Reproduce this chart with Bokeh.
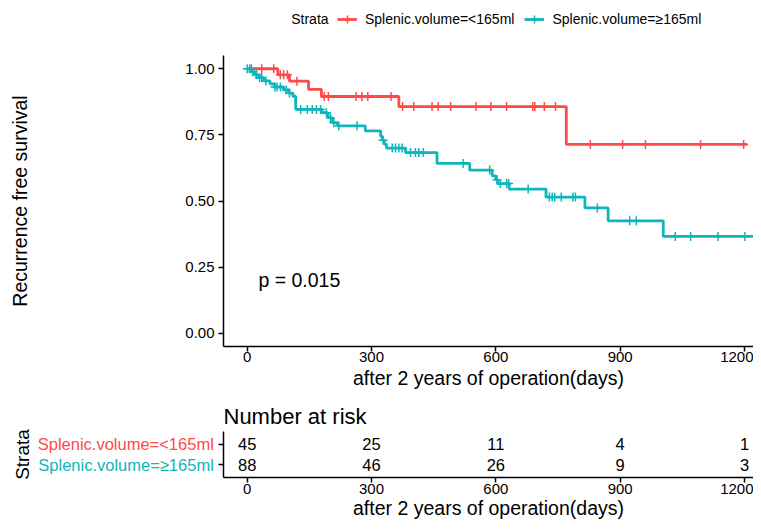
import numpy as np
from bokeh.plotting import figure
from bokeh.models import (Range1d, FixedTicker, NumeralTickFormatter, Label,
                          Legend, LegendItem, ColumnDataSource)
from bokeh.layouts import column, row
from bokeh.embed import file_html
from bokeh.resources import INLINE
from bokeh.core.properties import value

FONT = "Liberation Sans"
RED = "#FF4A4A"
TEAL = "#0FB5BA"

strata = ["Splenic.volume=<165ml", "Splenic.volume=\u2265165ml"]

# Kaplan-Meier steps (time in days, survival probability)
red_time = [0, 74, 102, 148, 179, 366, 770, 1206]
red_surv = [1.000, 0.977, 0.953, 0.922, 0.895, 0.857, 0.714, 0.714]
red_cens = [10, 35, 64, 80, 88, 97, 120, 186, 196, 263, 277, 291, 347, 375,
            402, 446, 461, 491, 552, 588, 626, 689, 694, 717, 744, 828, 906,
            961, 1094, 1198]

teal_time = [0, 8, 18, 28, 40, 55, 66, 88, 100, 110, 117, 180, 195, 205, 218,
             285, 322, 326, 331, 336, 382, 458, 537, 591, 600, 605, 632, 721,
             815, 871, 1004, 1250]
teal_surv = [1.000, 0.989, 0.977, 0.966, 0.954, 0.943, 0.931, 0.920, 0.908,
             0.896, 0.846, 0.834, 0.815, 0.796, 0.784, 0.765, 0.745, 0.730,
             0.715, 0.700, 0.683, 0.642, 0.617, 0.595, 0.580, 0.566, 0.545,
             0.515, 0.474, 0.425, 0.366, 0.366]
teal_cens = [0, 6, 14, 22, 30, 35, 45, 67, 72, 80, 94, 102, 129, 145, 157, 167,
             177, 191, 201, 209, 221, 265, 328, 350, 358, 366, 374, 394, 406,
             414, 425, 521, 585, 603, 611, 626, 631, 678, 729, 736, 742, 758,
             786, 792, 845, 923, 939, 1033, 1070, 1136, 1201, 1233]

risk_times = [0, 300, 600, 900, 1200]
risk_red = [45, 25, 11, 4, 1]
risk_teal = [88, 46, 26, 9, 3]

x_ticks = [0, 300, 600, 900, 1200]
y_ticks = [0, 0.25, 0.5, 0.75, 1.0]
p_text = "p = 0.015"


def surv_at(times, survs, t):
    idx = np.searchsorted(np.asarray(times), np.asarray(t), side="right") - 1
    return np.asarray(survs)[idx]


W = 753
LEFT = 223          # frame left edge (px), shared by the aligned frames
PX_PER_DAY = 0.4144
X0 = -(246.7 - LEFT) / PX_PER_DAY
xr = Range1d(X0, X0 + (W - LEFT) / PX_PER_DAY)


def blank(fig):
    fig.outline_line_color = None
    fig.grid.visible = False
    fig.background_fill_color = "white"
    fig.border_fill_color = "white"


def style_axes(fig):
    blank(fig)
    for ax in fig.axis:
        ax.axis_line_color = "black"
        ax.axis_line_width = 1.5
        ax.major_tick_line_color = "black"
        ax.major_tick_line_width = 1.5
        ax.major_tick_out = 5
        ax.major_tick_in = 0
        ax.minor_tick_line_color = None
        ax.major_label_text_font = FONT
        ax.major_label_text_font_size = "15px"
        ax.major_label_text_color = "black"
        ax.axis_label_text_font = FONT
        ax.axis_label_text_font_size = "19.5px"
        ax.axis_label_text_font_style = "normal"
        ax.axis_label_text_color = "black"


# ---------- legend strip (its frame is aligned with the plot frame at x=LEFT) ----------
H0 = 47
top = figure(width=W, height=H0, x_range=Range1d(0, 1), y_range=Range1d(0, 1),
             x_axis_type=None, y_axis_type=None, output_backend="svg",
             toolbar_location=None, min_border=0)
blank(top)
nan = [np.nan]
lr1 = top.line(nan, nan, line_color=RED, line_width=2.8)
lc1 = top.scatter(nan, nan, marker="cross", size=9, line_color=RED, line_width=1.5)
lr2 = top.line(nan, nan, line_color=TEAL, line_width=2.8)
lc2 = top.scatter(nan, nan, marker="cross", size=9, line_color=TEAL, line_width=1.5)
legend = Legend(items=[LegendItem(label=strata[0], renderers=[lr1, lc1]),
                       LegendItem(label=strata[1], renderers=[lr2, lc2])],
                orientation="horizontal", location=(337 - LEFT, 18.5), padding=0,
                margin=0, spacing=10, label_standoff=8, glyph_width=20,
                glyph_height=20, label_text_font=FONT, label_text_font_size="14px",
                label_text_color="black",
                border_line_color=None, background_fill_alpha=0)
top.add_layout(legend)
top.add_layout(Label(x=290.7 - LEFT, y=28.5, x_units="screen", y_units="screen",
                     text="Strata", text_font=FONT, text_font_size="14px",
                     text_baseline="middle", text_align="left", text_color="black"))

# ---------- survival plot ----------
H1 = 348
p = figure(width=W, height=H1, x_range=xr, y_range=Range1d(-0.05, 1.05),
           output_backend="svg", toolbar_location=None,
           min_border_left=LEFT, min_border_right=0, min_border_top=8,
           min_border_bottom=H1 - 8 - 291)
style_axes(p)
p.xaxis.ticker = FixedTicker(ticks=x_ticks)
p.yaxis.ticker = FixedTicker(ticks=y_ticks)
p.yaxis.formatter = NumeralTickFormatter(format="0.00")
p.xaxis.axis_label = "after 2 years of operation(days)"
p.yaxis.axis_label = "Recurrence free survival"
p.xaxis.major_label_standoff = 0
p.xaxis.axis_label_standoff = 2
p.yaxis.major_label_standoff = 4
p.yaxis.axis_label_standoff = 151

p.step(red_time, red_surv, mode="after", line_color=RED, line_width=2.8)
p.scatter(red_cens, surv_at(red_time, red_surv, red_cens), marker="cross",
          size=9, line_color=RED, line_width=1.5)
p.step(teal_time, teal_surv, mode="after", line_color=TEAL, line_width=2.8)
p.scatter(teal_cens, surv_at(teal_time, teal_surv, teal_cens), marker="cross",
          size=9, line_color=TEAL, line_width=1.5)
p.add_layout(Label(x=27, y=0.2, text=p_text, text_font=FONT, text_font_size="19.5px",
                   text_baseline="middle", text_align="left", text_color="black"))

# ---------- risk table ----------
H2 = 521 - H0 - H1
BT, BB = 36, 44                       # top / bottom borders of the table frame
yr_tab = Range1d(0.4, 2.6)
LW = 214                              # width of the strata-label panel
LB = 33                               # its left border (holds the "Strata" title)

lab = figure(width=LW, height=H2, x_range=Range1d(LB, LW), y_range=yr_tab,
             x_axis_type=None, output_backend="svg", toolbar_location=None,
             min_border_left=LB, min_border_right=0, min_border_top=BT,
             min_border_bottom=BB)
blank(lab)
lab.yaxis.ticker = FixedTicker(ticks=[])
lab.yaxis.axis_line_color = None
lab.yaxis.major_tick_line_color = None
lab.yaxis.minor_tick_line_color = None
lab.yaxis.major_label_standoff = 0
lab.yaxis.axis_label = "Strata"
lab.yaxis.axis_label_text_font = FONT
lab.yaxis.axis_label_text_font_size = "19px"
lab.yaxis.axis_label_text_font_style = "normal"
lab.yaxis.axis_label_text_color = "black"
lab.yaxis.axis_label_standoff = 1
lab.text(x=[LW - 0.7] * 2, y=[2, 1], text=strata, text_align="right",
         text_baseline="middle", text_color=[RED, TEAL], text_font=value(FONT),
         text_font_size=value("16.5px"))

q = figure(width=W - LW, height=H2, x_range=xr, y_range=yr_tab,
           output_backend="svg", toolbar_location=None, title="Number at risk",
           min_border_left=LEFT - LW, min_border_right=0, min_border_top=BT,
           min_border_bottom=BB)
style_axes(q)
q.title.text_font = FONT
q.title.text_font_size = "22px"
q.title.text_font_style = "normal"
q.title.text_color = "black"
q.title.align = "left"
q.title.offset = 0
q.title.standoff = 6
q.xaxis.ticker = FixedTicker(ticks=x_ticks)
q.yaxis.ticker = FixedTicker(ticks=[1, 2])
q.yaxis.major_label_text_font_size = "1px"
q.yaxis.major_label_text_color = None
q.yaxis.major_label_standoff = 0
q.xaxis.axis_label = "after 2 years of operation(days)"
q.xaxis.major_label_standoff = 1
q.xaxis.axis_label_standoff = 0

src = ColumnDataSource(dict(
    x=risk_times + risk_times,
    y=[2] * len(risk_times) + [1] * len(risk_times),
    t=[str(v) for v in risk_red] + [str(v) for v in risk_teal]))
q.text(x="x", y="y", text="t", source=src, text_align="center", text_baseline="middle",
       text_font=value(FONT), text_font_size=value("16.5px"), text_color="black")

layout = column(top, p, row(lab, q))
open("out.html", "w").write(file_html(layout, INLINE))
